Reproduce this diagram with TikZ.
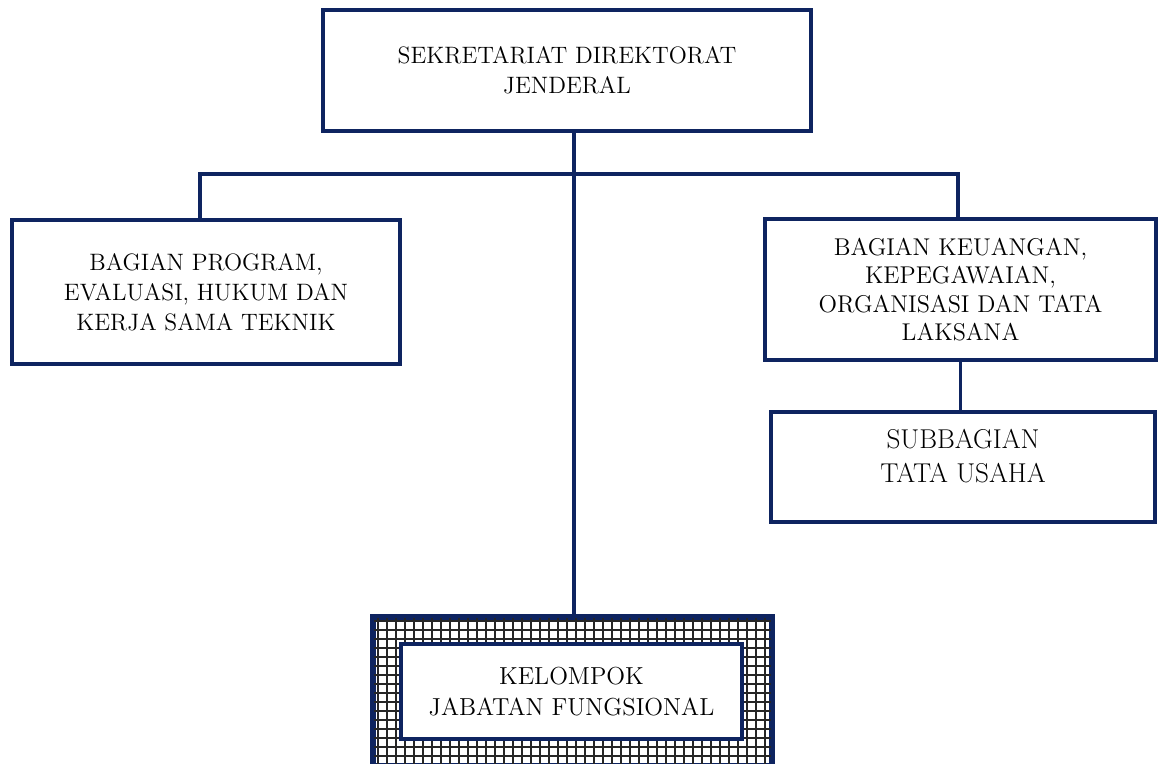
\documentclass[tikz,border=0pt]{standalone}
\definecolor{navyline}{RGB}{14,36,96}
\tikzset{
	unitbox/.style={draw=navyline, line width=2.2pt, align=center, fill=white,
		font=\fontsize{13.5}{17}\selectfont, inner sep=0pt},
	link/.style={draw=navyline, line width=2.2pt},
}
\begin{document}
\begin{tikzpicture}[x=0.02cm, y=-0.02cm]
		\useasboundingbox (0,0) rectangle (1163,764);
		\path
			 (567,  70.5) node[unitbox, minimum width=9.76cm, minimum height=2.42cm] (sekdit)
				{SEKRETARIAT DIREKTORAT\\JENDERAL}
			 (206,  292)  node[unitbox, minimum width=7.76cm, minimum height=2.88cm] (program)
				{BAGIAN PROGRAM,\\EVALUASI, HUKUM DAN\\KERJA SAMA TEKNIK}
			 (960.5,289.5) node[unitbox, minimum width=7.82cm, minimum height=2.82cm,
				font=\fontsize{13.8}{16.2}\selectfont] (keuangan)
				{BAGIAN KEUANGAN,\\KEPEGAWAIAN,\\ORGANISASI DAN TATA\\LAKSANA}
			 (963,  467)  node[unitbox, minimum width=7.68cm, minimum height=2.2cm,
				font=\fontsize{15.5}{19}\selectfont] (tatausaha)
				{SUBBAGIAN\\TATA USAHA\\[-12pt]\strut}
			 (572.5,691.5) node[unitbox, minimum width=7.94cm, minimum height=2.94cm] (fungframe) {}
		;
		% kisi-kisi bingkai kelompok fungsional
		\begin{scope}
			\clip (fungframe.south west) rectangle (fungframe.north east);
			\draw[black!85, line width=1.4pt] (374,618) grid[step=0.18cm] (780,770);
		\end{scope}
		\draw[navyline, line width=2.2pt] (fungframe.south west) rectangle (fungframe.north east);
		\node[unitbox, minimum width=6.82cm, minimum height=1.9cm,
			font=\fontsize{14}{17.6}\selectfont] (fung) at (571.5,691.5)
			{KELOMPOK\\JABATAN FUNGSIONAL};
		\coordinate (busL) at (200,174);
		\coordinate (busR) at (958,174);
		\coordinate (drop) at (574,0);
		\draw[link] (busL |- program.north) -- (busL) -- (busR) -- (busR |- keuangan.north);
		\draw[link] (drop |- sekdit.south) -- (drop |- fungframe.north);
		\draw[link] (keuangan.south) -- (keuangan.south |- tatausaha.north);
	\end{tikzpicture}
\end{document}
